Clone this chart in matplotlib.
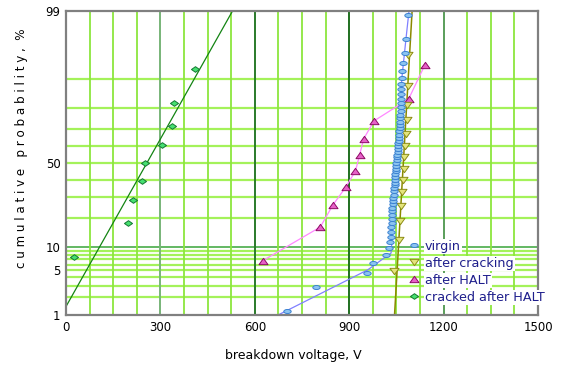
import numpy as np
import matplotlib.pyplot as plt
from matplotlib.path import Path
from matplotlib.transforms import Affine2D
from statistics import NormalDist

# breakdown voltages, V (sorted, one value per sample)
virgin = [701, 795, 957, 975, 1018, 1026, 1030, 1032, 1033, 1034,
          1035, 1035, 1036, 1036, 1037, 1038, 1039, 1040, 1041, 1042,
          1043, 1044, 1045, 1045, 1046, 1047, 1048, 1049, 1050, 1050,
          1051, 1052, 1053, 1054, 1054, 1055, 1056, 1057, 1058, 1059,
          1059, 1060, 1061, 1062, 1062, 1063, 1064, 1064, 1065, 1065,
          1066, 1066, 1066, 1067, 1068, 1070, 1078, 1079, 1086]
after_cracking = [1042, 1057, 1062, 1066, 1069, 1071, 1073, 1075, 1077,
                  1081, 1083, 1084, 1087, 1088]
after_halt = [625, 808, 848, 889, 920, 933, 946, 979, 1089, 1140]
cracked_after_halt = [27, 196, 212, 240, 252, 304, 337, 342, 410]

# normal fits
crk_mu, crk_sigma = 1072, 12
cah_mu, cah_sigma = 257, 117

# smoothed curve for the virgin set
virgin_curve_v = [674, 959, 1017, 1033, 1036, 1044, 1052, 1060, 1067, 1080, 1090]
virgin_curve_pct = [1, 5.1, 7.6, 8.4, 12, 30, 50, 70, 90, 97, 99]

pct_ticks = [1, 5, 10, 50, 99]
pct_grid = [2, 3, 4, 5, 6, 7, 8, 9, 20, 30, 40, 50, 60, 70, 80, 90]
v_ticks = [0, 300, 600, 900, 1200, 1500]
v_minor = [v for v in range(75, 1500, 75) if v % 300]

nd = NormalDist()


def probit(pct):
    return np.array([nd.inv_cdf(p / 100.0) for p in np.atleast_1d(pct)])


def median_rank(n):
    i = np.arange(1, n + 1)
    return (i - 0.3) / (n + 0.4) * 100


# marker shapes (flattened)
ellipse = Path.unit_circle().transformed(Affine2D().scale(1, 0.55))
diamond = Path([(-1, 0), (0, 0.7), (1, 0), (0, -0.7), (-1, 0)],
               [Path.MOVETO, Path.LINETO, Path.LINETO, Path.LINETO, Path.CLOSEPOLY])
tri_up = Path([(0, 0.7), (-1, -0.7), (1, -0.7), (0, 0.7)],
              [Path.MOVETO, Path.LINETO, Path.LINETO, Path.CLOSEPOLY])
tri_dn = Path([(0, -0.7), (-1, 0.7), (1, 0.7), (0, -0.7)],
              [Path.MOVETO, Path.LINETO, Path.LINETO, Path.CLOSEPOLY])

fig = plt.figure(figsize=(5.62, 3.65), dpi=100)
ax = fig.add_axes([66 / 562, 1 - 315 / 365, 472 / 562, 304 / 365])

# grid
for p in pct_grid:
    ax.axhline(probit(p)[0], color='#a4f25a', lw=1.6, zorder=0)
ax.axhline(probit(10)[0], color='#62b862', lw=1.4, zorder=0)
for v in v_minor:
    ax.axvline(v, color='#8ce63e', lw=1.3, zorder=0)
major_cols = {300: '#78b478', 600: '#2a7a2a', 900: '#1f6f1f', 1200: '#5a9e5a'}
for v, c in major_cols.items():
    ax.axvline(v, color=c, lw=1.4, zorder=0)

vv = np.linspace(0, 1500, 600)
ax.plot(vv, (vv - cah_mu) / cah_sigma, color='#138413', lw=0.9, zorder=2)
ax.plot(vv, (vv - crk_mu) / crk_sigma, color='#8a8a00', lw=1.1, zorder=2)
ax.plot(virgin_curve_v, probit(virgin_curve_pct), color='#8080ff', lw=0.9, zorder=2)
ax.plot(after_halt, probit(median_rank(len(after_halt))), color='#ff88ff', lw=0.9, zorder=2)

ax.plot(cracked_after_halt, probit(median_rank(len(cracked_after_halt))), ls='none',
        marker=diamond, ms=5.8, mfc='#46e070', mec='#147832', mew=0.7, zorder=3,
        label='cracked after HALT')
ax.plot(after_halt, probit(median_rank(len(after_halt))), ls='none',
        marker=tri_up, ms=6.5, mfc='#e660c8', mec='#8c0a64', mew=0.7, zorder=3,
        label='after HALT')
ax.plot(after_cracking, probit(median_rank(len(after_cracking))), ls='none',
        marker=tri_dn, ms=6.5, mfc='#e4e47c', mec='#8c8c14', mew=0.7, zorder=3,
        label='after cracking')
ax.plot(virgin, probit(median_rank(len(virgin))), ls='none',
        marker=ellipse, ms=5.3, mfc='#8cc4f0', mec='#3c82d2', mew=0.7, zorder=4,
        label='virgin')

ax.set_xlim(0, 1500)
ax.set_ylim(probit(1)[0], probit(99)[0])
ax.set_xticks(v_ticks)
ax.set_yticks(probit(pct_ticks))
ax.set_yticklabels([str(p) for p in pct_ticks])
ax.tick_params(length=0, labelsize=8.5, pad=4)
for s in ax.spines.values():
    s.set_color('#808080')
    s.set_linewidth(1.6)

fig.text(22 / 562, 1 - 148 / 365, 'c u m u l a t i v e   p r o b a b i l i t y ,  %',
         rotation=90, ha='center', va='center', fontsize=8.6)
fig.text(293 / 562, 1 - 355 / 365, 'breakdown voltage, V',
         ha='center', va='center', fontsize=9)

h, l = ax.get_legend_handles_labels()
leg = ax.legend(h[::-1], l[::-1], loc='upper left', bbox_to_anchor=(0.727, 0.248),
                frameon=False, handlelength=0.8, handletextpad=0.45,
                labelspacing=0.32, borderpad=0, borderaxespad=0,
                fontsize=9.2, labelcolor='#1e1e8c')
for t in leg.get_texts():
    t.set_bbox(dict(facecolor='white', edgecolor='none', pad=0.6))

fig.savefig('out.png', dpi=100)
